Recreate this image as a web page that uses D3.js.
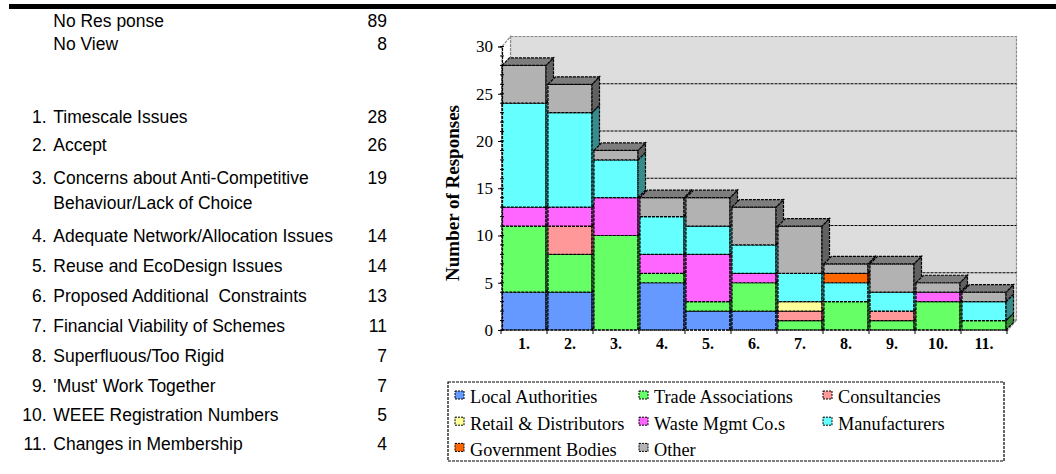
<!DOCTYPE html>
<html><head><meta charset="utf-8">
<script src="https://cdn.jsdelivr.net/npm/d3@7"></script>
<style>html,body{margin:0;padding:0;background:#fff;} svg{display:block;}</style>
</head><body><svg id="chart" width="1056" height="474"></svg>
<script>
// ---- data ----
const summaryLabels = ["No Res ponse", "No View"];
const summaryCounts = [89, 8];
const issueLabels = [
  "Timescale Issues",
  "Accept",
  "Concerns about Anti-Competitive\nBehaviour/Lack of Choice",
  "Adequate Network/Allocation Issues",
  "Reuse and EcoDesign Issues",
  "Proposed Additional  Constraints",
  "Financial Viability of Schemes",
  "Superfluous/Too Rigid",
  "'Must' Work Together",
  "WEEE Registration Numbers",
  "Changes in Membership"
];
const issueCounts = [28, 26, 19, 14, 14, 13, 11, 7, 7, 5, 4];

const categories = ["1.", "2.", "3.", "4.", "5.", "6.", "7.", "8.", "9.", "10.", "11."];
const seriesNames = ["Local Authorities", "Trade Associations", "Consultancies",
  "Retail & Distributors", "Waste Mgmt Co.s", "Manufacturers", "Government Bodies", "Other"];
const localAuthorities    = [4, 4, 0, 5, 2, 2, 0, 0, 0, 0, 0];
const tradeAssociations   = [7, 4, 10, 1, 1, 3, 1, 3, 1, 3, 1];
const consultancies       = [0, 3, 0, 0, 0, 0, 1, 0, 1, 0, 0];
const retailDistributors  = [0, 0, 0, 0, 0, 0, 1, 0, 0, 0, 0];
const wasteMgmt           = [2, 2, 4, 2, 5, 1, 0, 0, 0, 1, 0];
const manufacturers       = [11, 10, 4, 4, 3, 3, 3, 2, 2, 0, 2];
const governmentBodies    = [0, 0, 0, 0, 0, 0, 0, 1, 0, 0, 0];
const other               = [4, 3, 1, 2, 3, 4, 5, 1, 3, 1, 1];
const yTickValues = [0, 5, 10, 15, 20, 25, 30];

// ---- styling ----
const palette = ["#6699FF", "#66FF66", "#FF9999", "#FFFF99", "#FF66FF", "#66FFFF", "#FF6600", "#B2B2B2"];
const DASH = "3,1";
const SW = 1.2;

const seriesValues = [localAuthorities, tradeAssociations, consultancies, retailDistributors,
  wasteMgmt, manufacturers, governmentBodies, other];
const table = categories.map((c, i) => {
  const row = {category: c};
  seriesNames.forEach((s, k) => row[s] = seriesValues[k][i]);
  return row;
});
const color = d3.scaleOrdinal().domain(seriesNames).range(palette);

const svg = d3.select("#chart");

// top rule
svg.append("rect").attr("x", 9).attr("y", 4).attr("width", 1047).attr("height", 5).attr("fill", "#000");

// ---- left text panel ----
const SX = 0.945;
const panel = svg.append("g").style("font-family", "'Liberation Sans', Arial, sans-serif")
  .style("font-size", "18.5px").attr("fill", "#000");
function ptext(x, y, str, anchor) {
  panel.append("text").attr("transform", `translate(${x},${y}) scale(${SX},1)`)
    .attr("text-anchor", anchor || "start").attr("xml:space", "preserve")
    .style("white-space", "pre").text(str);
}
const summaryY = [26.7, 50];
summaryLabels.forEach((l, i) => {
  ptext(53.3, summaryY[i], l);
  ptext(387, summaryY[i], String(summaryCounts[i]), "end");
});
const rowBaselines = [122.7, 150.7, 184, 241.7, 271.7, 301.7, 331.7, 361.7, 391.7, 420.5, 450];
issueLabels.forEach((l, i) => {
  const y = rowBaselines[i];
  ptext(46.5, y, (i + 1) + ".", "end");
  l.split("\n").forEach((line, j) => ptext(53.3, y + j * 25.3, line));
  ptext(387, y, String(issueCounts[i]), "end");
});

// ---- chart geometry ----
const y = d3.scaleLinear().domain([0, 30]).range([330, 46.5]);
const x = d3.scaleBand().domain(categories).range([501, 1007]).paddingInner(0).paddingOuter(0);
const WX = 8.5, WY = 10;   // wall depth offset
const BX = 7.5, BY = 7.5;  // bar depth offset
const x0 = 502, x1 = 1008;

const g = svg.append("g");

// back wall
g.append("polygon")
  .attr("points", [[x0 + WX, y(30) - WY], [x1 + WX, y(30) - WY], [x1 + WX, y(0) - WY], [x0 + WX, y(0) - WY]].join(" "))
  .attr("fill", "#DDDDDD").attr("stroke", "#8a8a8a").attr("stroke-width", SW).attr("stroke-dasharray", DASH);
// floor
g.append("polygon")
  .attr("points", [[x0, y(0)], [x1, y(0)], [x1 + WX, y(0) - WY], [x0 + WX, y(0) - WY]].join(" "))
  .attr("fill", "#DDDDDD").attr("stroke", "#8a8a8a").attr("stroke-width", SW).attr("stroke-dasharray", DASH);
// side wall edge
g.append("polygon")
  .attr("points", [[x0, y(0)], [x0, y(30)], [x0 + WX, y(30) - WY], [x0 + WX, y(0) - WY]].join(" "))
  .attr("fill", "#fff").attr("stroke", "#8a8a8a").attr("stroke-width", SW).attr("stroke-dasharray", DASH);

// gridlines on the back wall
g.append("g").selectAll("line").data(yTickValues.filter(v => v > 0 && v < 30)).join("line")
  .attr("x1", x0 + WX).attr("x2", x1 + WX)
  .attr("y1", d => y(d) - WY).attr("y2", d => y(d) - WY)
  .attr("stroke", "#000").attr("stroke-width", SW).attr("stroke-dasharray", DASH);

// ---- stacked 3D bars ----
const stacked = d3.stack().keys(seriesNames)(table);
const barsG = g.append("g");
categories.forEach((c, i) => {
  const bx = x(c) + 1, bw = x.bandwidth() - 2;
  const bg = barsG.append("g").attr("stroke", "#000").attr("stroke-width", SW).attr("stroke-dasharray", DASH);
  let topVal = 0, topColor = null;
  stacked.forEach(layer => {
    const [v0, v1] = layer[i];
    if (v1 <= v0) return;
    const col = color(layer.key);
    bg.append("rect").attr("x", bx).attr("y", y(v1)).attr("width", bw).attr("height", y(v0) - y(v1))
      .attr("fill", col);
    bg.append("polygon")
      .attr("points", [[bx + bw, y(v1)], [bx + bw + BX, y(v1) - BY], [bx + bw + BX, y(v0) - BY], [bx + bw, y(v0)]].join(" "))
      .attr("fill", d3.rgb(col).darker(1.7));
    topVal = v1; topColor = col;
  });
  if (topColor) {
    bg.append("polygon")
      .attr("points", [[bx, y(topVal)], [bx + BX, y(topVal) - BY], [bx + bw + BX, y(topVal) - BY], [bx + bw, y(topVal)]].join(" "))
      .attr("fill", d3.rgb(topColor).darker(1));
  }
});

// ---- axes ----
const serif = "'Liberation Serif', 'Times New Roman', serif";
const yAxis = g.append("g").attr("transform", `translate(${x0},0)`)
  .call(d3.axisLeft(y).tickValues(yTickValues).tickSize(4).tickPadding(5).tickFormat(d3.format("d")));
yAxis.select(".domain").attr("stroke", "#000").attr("stroke-width", SW).attr("stroke-dasharray", DASH);
yAxis.selectAll(".tick line").attr("stroke", "#000");
yAxis.selectAll("text").style("font-family", serif).style("font-size", "17px").attr("fill", "#000");
// minor ticks
g.append("g").selectAll("line").data(d3.range(0, 31)).join("line")
  .attr("x1", x0 - 2).attr("x2", x0 + 2).attr("y1", d => y(d)).attr("y2", d => y(d))
  .attr("stroke", "#000");

const xAxis = g.append("g").attr("transform", `translate(0,${y(0)})`)
  .call(d3.axisBottom(x).tickSize(0).tickPadding(19.3));
xAxis.select(".domain").attr("stroke", "#000").attr("stroke-width", SW).attr("stroke-dasharray", DASH).attr("d", `M${x0},0H${x1}`);
xAxis.selectAll("text").style("font-family", serif).style("font-size", "16px")
  .style("font-weight", "bold").attr("fill", "#000").attr("dy", "0");
// category boundary ticks
g.append("g").selectAll("line").data(d3.range(0, categories.length + 1)).join("line")
  .attr("x1", k => x.range()[0] + k * x.bandwidth()).attr("x2", k => x.range()[0] + k * x.bandwidth())
  .attr("y1", y(0)).attr("y2", y(0) + 4).attr("stroke", "#000");

// y title
svg.append("text").attr("transform", `translate(459,193) rotate(-90)`)
  .attr("text-anchor", "middle").style("font-family", serif).style("font-size", "19px")
  .style("font-weight", "bold").text("Number of Responses");

// ---- legend ----
const lg = svg.append("g");
lg.append("rect").attr("x", 448).attr("y", 382).attr("width", 556).attr("height", 79)
  .attr("fill", "#fff").attr("stroke", "#000").attr("stroke-width", SW).attr("stroke-dasharray", DASH);
const colX = [455, 639, 823];
seriesNames.forEach((s, i) => {
  const cx = colX[i % 3], ry = 391 + Math.floor(i / 3) * 26.2;
  lg.append("rect").attr("x", cx).attr("y", ry).attr("width", 9).attr("height", 8)
    .attr("fill", color(s)).attr("stroke", "#000").attr("stroke-dasharray", "2,1");
  lg.append("text").attr("x", cx + 15).attr("y", ry + 12.3)
    .style("font-family", serif).style("font-size", "18.3px").text(s);
});
</script>
</body></html>
